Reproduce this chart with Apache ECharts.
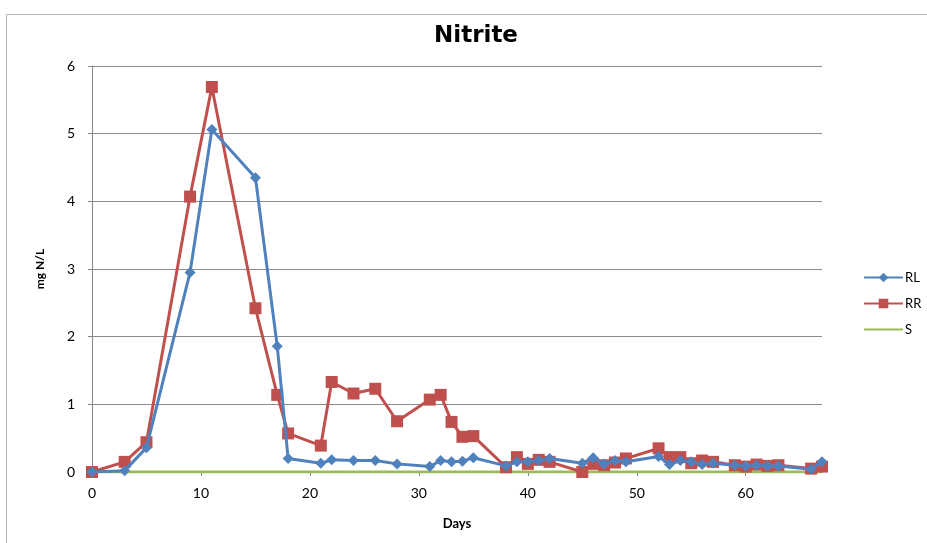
<!DOCTYPE html>
<html>
<head>
<meta charset="utf-8">
<script src="https://cdn.jsdelivr.net/npm/echarts@6/dist/echarts.min.js"></script>
<style>html,body{margin:0;padding:0;background:#fff}#c{width:927px;height:543px}</style>
</head>
<body>
<div id="c"></div>
<script>
const days = [0,3,5,9,11,15,17,18,21,22,24,26,28,31,32,33,34,35,38,39,40,41,42,45,46,47,48,49,52,53,54,55,56,57,59,60,61,62,63,66,67];
const rl = [0,0.02,0.36,2.95,5.06,4.35,1.86,0.2,0.13,0.18,0.17,0.17,0.12,0.08,0.17,0.15,0.16,0.21,0.09,0.15,0.15,0.17,0.2,0.13,0.21,0.12,0.17,0.15,0.23,0.11,0.17,0.15,0.11,0.13,0.1,0.09,0.1,0.09,0.09,0.04,0.15];
const rr = [0,0.15,0.44,4.07,5.69,2.42,1.14,0.57,0.39,1.33,1.16,1.23,0.75,1.07,1.14,0.74,0.52,0.53,0.07,0.22,0.12,0.18,0.15,0.0,0.12,0.1,0.14,0.2,0.35,0.22,0.22,0.13,0.17,0.15,0.1,0.08,0.11,0.09,0.1,0.05,0.08];
const s = days.map(() => 0);
const xTicks = [0,10,20,30,40,50,60];
const yTicks = [0,1,2,3,4,5,6];

const pair = (a) => days.map((d, i) => [d, a[i]]);
const font = 'Lato, "Open Sans", sans-serif';
const chart = echarts.init(document.getElementById('c'), null, {renderer: 'canvas'});
chart.setOption({
  animation: false,
  backgroundColor: '#fff',
  graphic: [{type: 'rect', shape: {x: 6.5, y: 14.5, width: 940, height: 560}, style: {fill: 'none', stroke: '#b4b4b4', lineWidth: 1}, silent: true}],
  title: {text: 'Nitrite', left: 471, top: 20, textAlign: 'center',
    textStyle: {fontFamily: '"DejaVu Sans", sans-serif', fontWeight: 'bold', fontSize: 23, color: '#000'}},
  grid: {left: 92, right: 105, top: 66, bottom: 71},
  legend: {orient: 'vertical', left: 858, top: 266, itemWidth: 39, itemHeight: 12, itemGap: 13,
    textStyle: {fontFamily: font, fontSize: 13, color: '#000', padding: [0,0,0,-3]},
    data: ['RL', 'RR', {name: 'S', itemStyle: {opacity: 0}}]},
  xAxis: {type: 'value', min: 0, max: 67, interval: 10,
    name: 'Days', nameLocation: 'middle', nameGap: 45,
    nameTextStyle: {fontFamily: font, fontWeight: 'bold', fontSize: 13, color: '#000'},
    axisLine: {show: true, lineStyle: {color: '#868686', width: 1}},
    axisTick: {show: true, customValues: xTicks, length: 4, lineStyle: {color: '#868686'}},
    axisLabel: {customValues: xTicks, margin: 14, fontFamily: font, fontSize: 14, color: '#000'},
    splitLine: {show: false}},
  yAxis: {type: 'value', min: 0, max: 6, interval: 1,
    name: 'mg N/L', nameLocation: 'middle', nameGap: 46,
    nameTextStyle: {fontFamily: font, fontWeight: 'bold', fontSize: 12, color: '#000'},
    axisLine: {show: true, lineStyle: {color: '#868686', width: 1}},
    axisTick: {show: true, customValues: yTicks, length: 4, inside: false, lineStyle: {color: '#868686'}},
    axisLabel: {customValues: yTicks, margin: 17, fontFamily: font, fontSize: 14, color: '#000'},
    splitLine: {show: true, lineStyle: {color: '#8c8c8c', width: 1}}},
  series: [
    {name: 'S', type: 'line', data: pair(s), symbol: 'none', z: 1,
      lineStyle: {color: '#9BBB59', width: 3}, itemStyle: {color: '#9BBB59'}},
    {name: 'RR', type: 'line', data: pair(rr), symbol: 'rect', symbolSize: 12, z: 2,
      lineStyle: {color: '#C0504D', width: 3}, itemStyle: {color: '#C0504D'}},
    {name: 'RL', type: 'line', data: pair(rl), symbol: 'diamond', symbolSize: 11, z: 3,
      lineStyle: {color: '#4F81BD', width: 3}, itemStyle: {color: '#4F81BD'}}
  ]
});
</script>
</body>
</html>
